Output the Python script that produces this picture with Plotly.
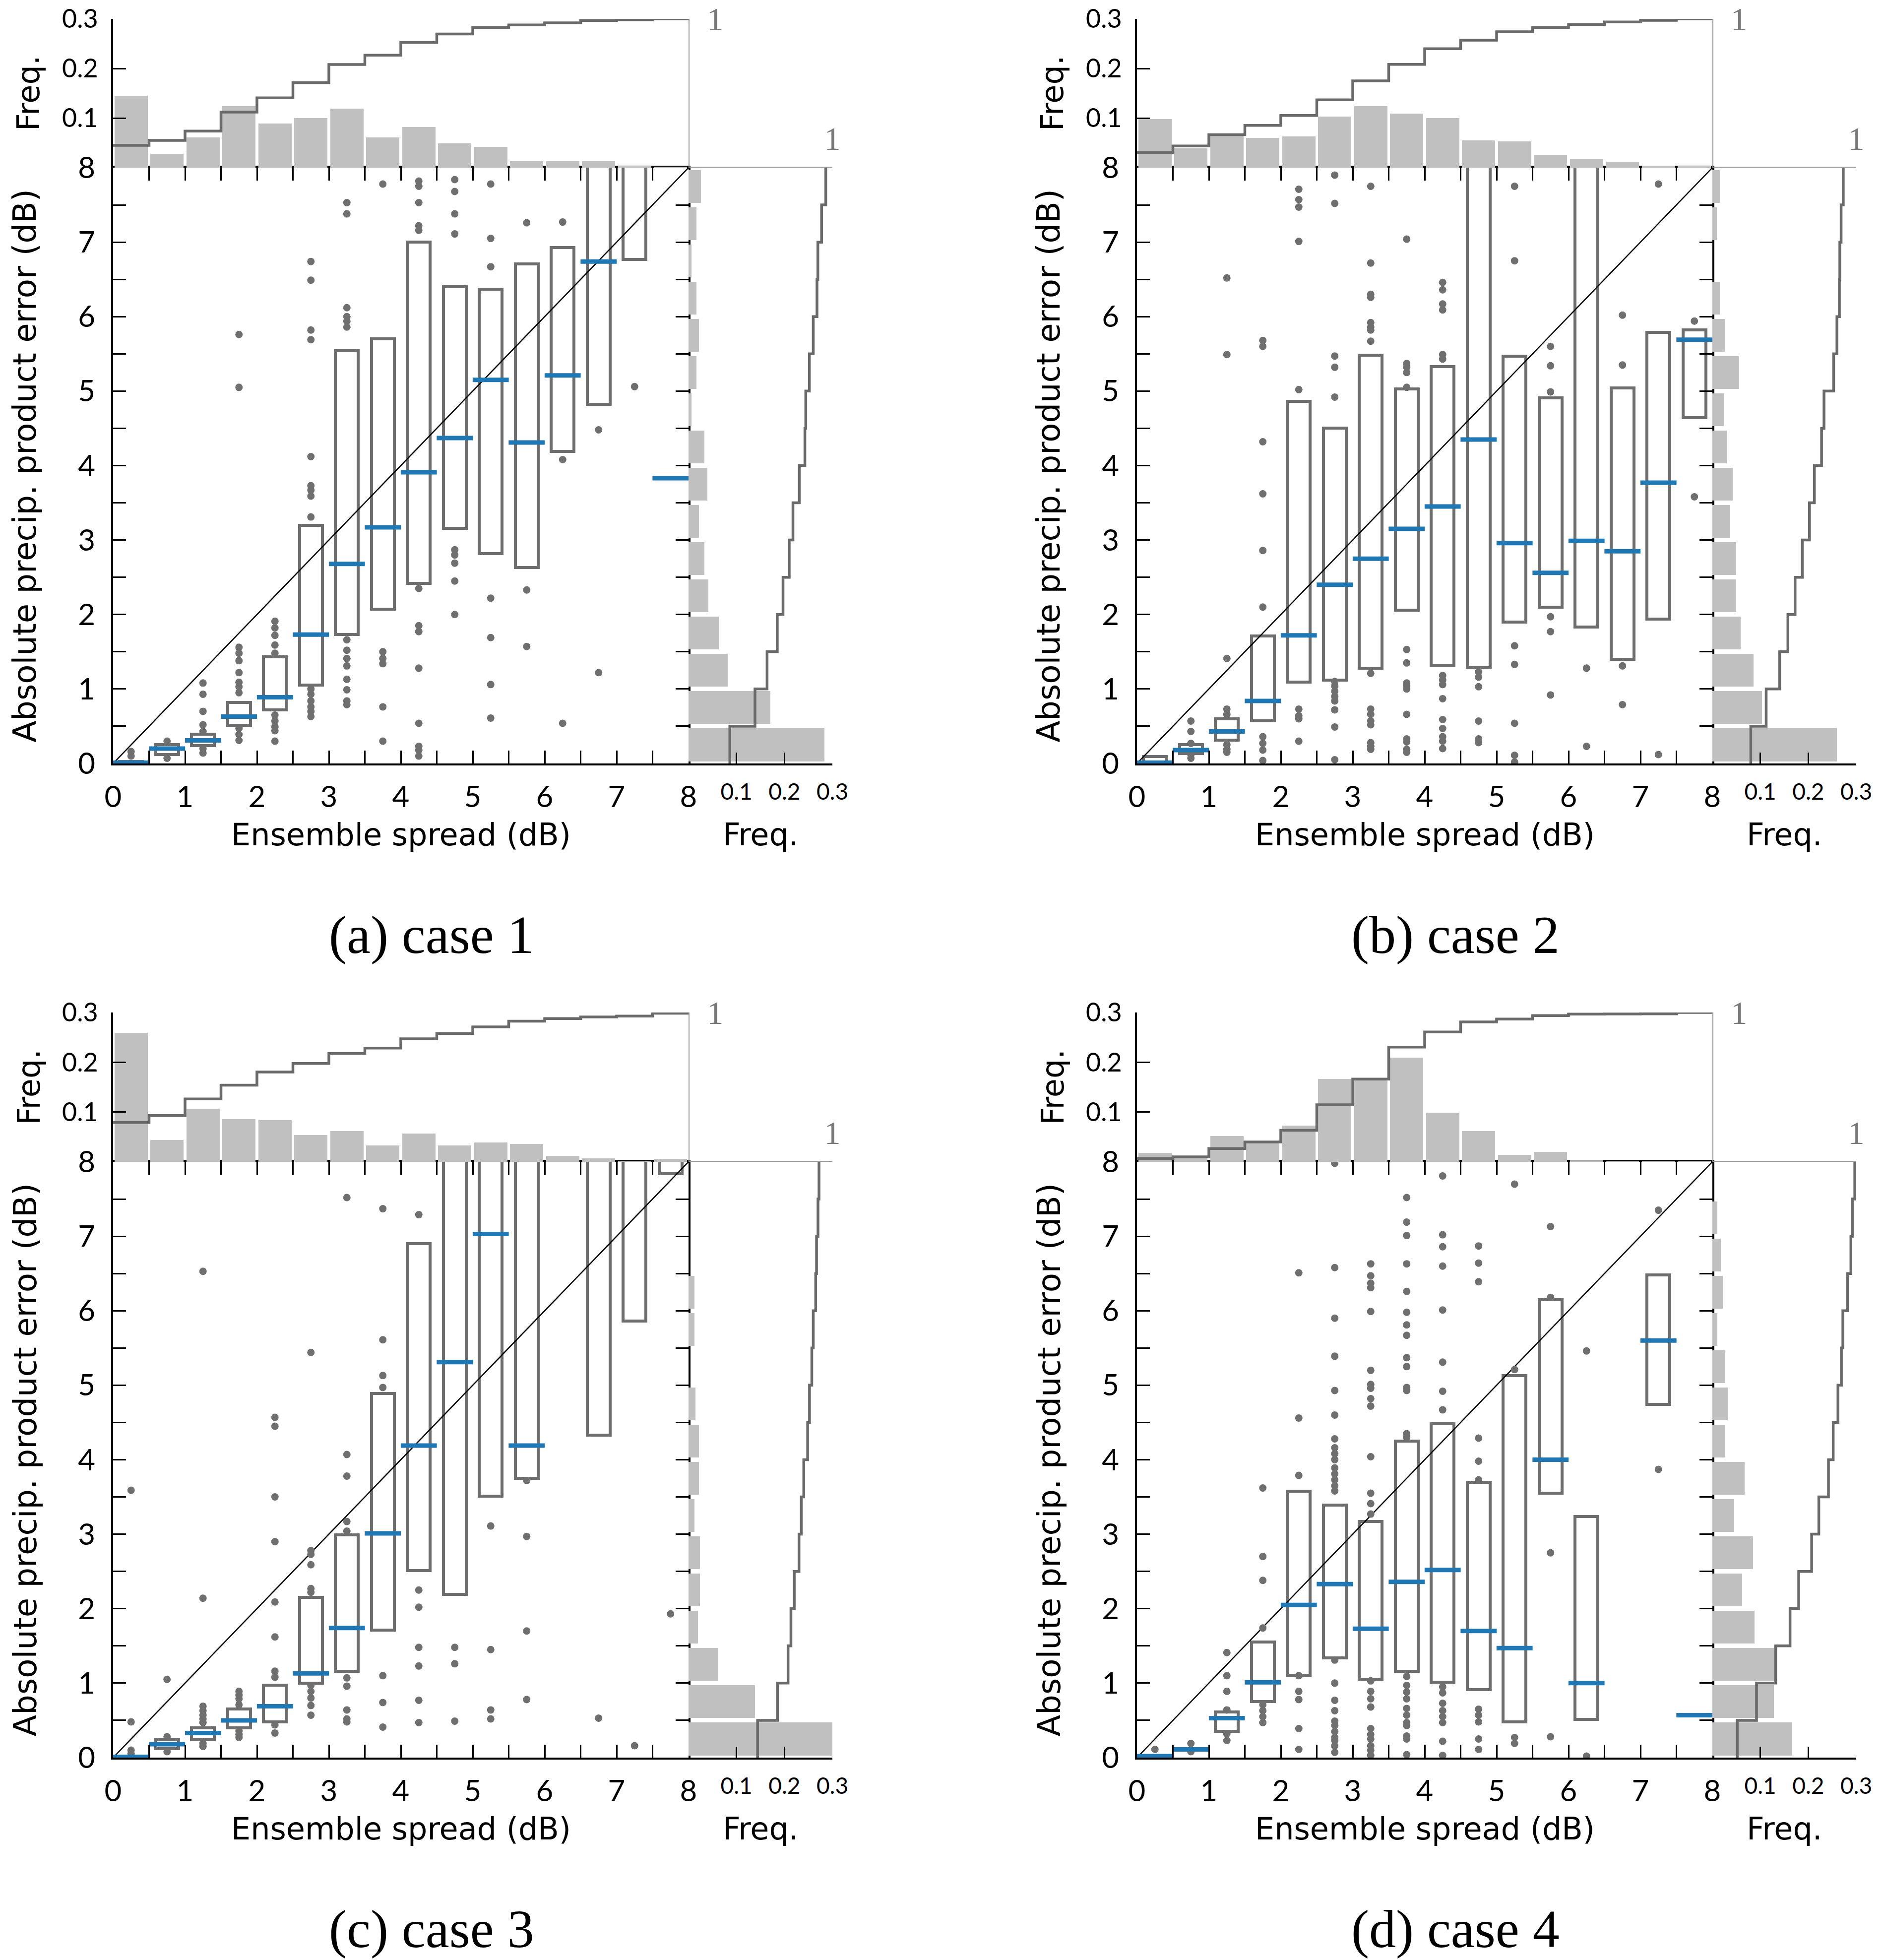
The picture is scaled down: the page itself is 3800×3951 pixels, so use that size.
import plotly.graph_objects as go

# ---------------- data ----------------
bin_centers = [0.25, 0.75, 1.25, 1.75, 2.25, 2.75, 3.25, 3.75,
               4.25, 4.75, 5.25, 5.75, 6.25, 6.75, 7.25, 7.75]
bin_edges = [0.0, 0.5, 1.0, 1.5, 2.0, 2.5, 3.0, 3.5, 4.0,
             4.5, 5.0, 5.5, 6.0, 6.5, 7.0, 7.5, 8.0]
main_ticks = [0.0, 0.5, 1.0, 1.5, 2.0, 2.5, 3.0, 3.5, 4.0,
              4.5, 5.0, 5.5, 6.0, 6.5, 7.0, 7.5, 8.0]
main_tick_text = ["0", "", "1", "", "2", "", "3", "", "4", "", "5", "", "6", "", "7", "", "8"]
freq_ticks = [0.1, 0.2, 0.3]
freq_tick_text = ["0.1", "0.2", "0.3"]
captions = ["(a) case 1", "(b) case 2", "(c) case 3", "(d) case 4"]
OFF = 8.6  # box upper edge above the plotted range

# ---- case 1 ----
top_freq_a = [0.145, 0.028, 0.061, 0.124, 0.089, 0.100, 0.119, 0.061,
              0.082, 0.049, 0.042, 0.013, 0.013, 0.013, 0.003, 0.002]
top_cum_a = [0.150, 0.183, 0.246, 0.373, 0.469, 0.571, 0.693, 0.756,
             0.842, 0.898, 0.942, 0.959, 0.973, 0.989, 0.994, 1.000]
right_freq_a = [0.283, 0.171, 0.082, 0.063, 0.041, 0.033, 0.022, 0.039,
                0.033, 0.006, 0.017, 0.022, 0.017, 0.006, 0.017, 0.026]
right_cum_a = [0.287, 0.462, 0.546, 0.617, 0.657, 0.700, 0.726, 0.770,
               0.809, 0.815, 0.840, 0.867, 0.893, 0.899, 0.925, 0.954]
q1_a = [0.00, 0.12, 0.24, 0.51, 0.72, 1.05, 1.73, 2.07, 2.42, 3.16, 2.82, 2.63, 4.19, 4.82, 6.77, None]
med_a = [0.01, 0.20, 0.31, 0.63, 0.89, 1.73, 2.68, 3.17, 3.91, 4.37, 5.15, 4.31, 5.21, 6.74, None, 3.83]
q3_a = [0.03, 0.255, 0.39, 0.82, 1.43, 3.20, 5.54, 5.70, 7.00, 6.40, 6.37, 6.71, 6.93, OFF, OFF, None]
out_a = [
    [0.16, 0.10],
    [0.30, 0.07],
    [1.08, 0.93, 0.70, 0.52, 0.43, 0.20, 0.14],
    [5.76, 5.05, 1.56, 1.48, 1.38, 1.22, 1.09, 1.03, 0.95, 0.47, 0.39, 0.31],
    [1.91, 1.82, 1.72, 1.59, 1.48, 0.65, 0.57, 0.49, 0.44, 0.30],
    [6.74, 6.49, 5.82, 5.69, 4.12, 3.73, 3.67, 3.59, 3.31, 1.00, 0.93, 0.84, 0.76, 0.70, 0.63],
    [7.53, 7.38, 6.12, 6.00, 5.94, 5.86, 1.66, 1.52, 1.41, 1.31, 1.13, 0.99, 0.84, 0.79],
    [7.78, 1.50, 1.41, 1.34, 0.76, 0.30],
    [7.82, 7.75, 7.53, 7.22, 7.16, 2.35, 1.85, 1.77, 1.28, 0.54, 0.23, 0.18, 0.10],
    [7.84, 7.68, 7.38, 7.11, 2.87, 2.80, 2.69, 2.45, 2.00],
    [7.78, 7.05, 6.67, 2.22, 1.69, 1.06, 0.61],
    [7.26, 2.33, 1.57],
    [7.27, 4.08, 0.54],
    [4.48, 1.22],
    [5.06],
    [],
]

# ---- case 2 ----
top_freq_b = [0.098, 0.039, 0.064, 0.060, 0.063, 0.103, 0.124, 0.109,
              0.100, 0.055, 0.053, 0.026, 0.018, 0.012, 0.004, 0.003]
top_cum_b = [0.102, 0.146, 0.222, 0.284, 0.351, 0.456, 0.583, 0.694,
             0.799, 0.857, 0.913, 0.942, 0.962, 0.979, 0.990, 1.000]
right_freq_b = [0.260, 0.103, 0.086, 0.059, 0.050, 0.050, 0.037, 0.042,
                0.030, 0.024, 0.056, 0.027, 0.015, 0.000, 0.009, 0.015]
right_cum_b = [0.267, 0.374, 0.468, 0.525, 0.575, 0.625, 0.675, 0.709,
               0.759, 0.776, 0.843, 0.866, 0.883, 0.886, 0.895, 0.910]
q1_b = [0.00, 0.13, 0.31, 0.57, 1.09, 1.12, 1.28, 2.06, 1.32, 1.29, 1.90, 2.10, 1.83, 1.40, 1.94, 4.64]
med_b = [0.01, 0.18, 0.43, 0.84, 1.72, 2.40, 2.75, 3.15, 3.45, 4.35, 2.96, 2.56, 2.99, 2.85, 3.77, 5.69]
q3_b = [0.09, 0.255, 0.60, 1.71, 4.86, 4.50, 5.48, 5.03, 5.33, OFF, 5.47, 4.91, OFF, 5.04, 5.79, 5.82]
out_b = [
    [],
    [0.57, 0.43, 0.27, 0.12, 0.07],
    [6.52, 5.49, 1.41, 0.73, 0.66, 0.25, 0.19, 0.15],
    [5.68, 5.60, 4.32, 3.62, 2.86, 2.10, 0.36, 0.27, 0.18, 0.04],
    [7.71, 7.57, 7.47, 7.01, 5.02, 0.73, 0.64, 0.60, 0.30],
    [7.90, 7.52, 5.47, 5.32, 4.92, 1.10, 1.04, 0.97, 0.90, 0.84, 0.72, 0.49, 0.05],
    [7.75, 6.72, 6.30, 6.26, 5.92, 5.86, 5.82, 5.67, 1.21, 0.73, 0.66, 0.57, 0.52, 0.28, 0.23, 0.19],
    [7.04, 5.37, 5.32, 5.25, 5.05, 1.53, 1.35, 1.08, 1.04, 1.00, 0.66, 0.33, 0.29, 0.19, 0.15],
    [6.46, 6.36, 6.17, 6.09, 5.49, 5.43, 1.18, 1.12, 1.06, 0.87, 0.59, 0.47, 0.36, 0.30, 0.20],
    [1.23, 1.16, 1.03, 0.57, 0.33, 0.28],
    [7.75, 6.75, 1.58, 1.33, 0.54, 0.11, 0.02],
    [5.60, 5.34, 4.99, 1.97, 1.77, 0.92],
    [1.28, 0.23],
    [6.02, 5.35, 1.31, 0.79],
    [7.78, 0.12],
    [5.94, 3.58],
]

# ---- case 3 ----
top_freq_c = [0.259, 0.044, 0.107, 0.086, 0.084, 0.054, 0.062, 0.033,
              0.057, 0.033, 0.039, 0.036, 0.012, 0.007, 0.001, 0.006]
top_cum_c = [0.263, 0.310, 0.421, 0.513, 0.601, 0.659, 0.726, 0.762,
             0.824, 0.859, 0.904, 0.942, 0.959, 0.970, 0.976, 0.995]
right_freq_c = [0.480, 0.139, 0.062, 0.020, 0.024, 0.024, 0.012, 0.022,
                0.022, 0.014, 0.000, 0.012, 0.012, 0.000, 0.000, 0.000]
right_cum_c = [0.480, 0.619, 0.692, 0.712, 0.735, 0.768, 0.784, 0.801,
               0.828, 0.841, 0.857, 0.867, 0.884, 0.890, 0.900, 0.907]
q1_c = [0.00, 0.12, 0.24, 0.40, 0.48, 1.00, 1.16, 1.71, 2.51, 2.19, 3.51, 3.75, None, 4.33, 5.86, 7.84]
med_c = [0.01, 0.18, 0.33, 0.50, 0.69, 1.13, 1.74, 3.01, 4.19, 5.31, 7.03, 4.19, None, None, None, None]
q3_c = [0.02, 0.24, 0.40, 0.65, 0.97, 2.15, 2.99, 4.89, 6.90, OFF, OFF, OFF, None, OFF, OFF, OFF]
out_c = [
    [3.59, 0.48, 0.10, 0.05],
    [1.05, 0.28, 0.08],
    [6.53, 2.14, 0.69, 0.63, 0.57, 0.52, 0.47, 0.19, 0.15],
    [0.89, 0.84, 0.79, 0.71, 0.36, 0.31, 0.27],
    [4.57, 4.45, 3.50, 2.90, 2.09, 1.62, 1.16, 1.08, 0.44, 0.33],
    [5.44, 2.78, 2.73, 2.59, 2.27, 2.22, 0.97, 0.89, 0.80, 0.70, 0.57],
    [7.52, 4.07, 3.78, 3.17, 3.04, 1.07, 0.96, 0.64, 0.52, 0.48],
    [7.37, 5.61, 5.13, 4.97, 1.10, 0.74, 0.41],
    [7.29, 2.25, 2.02, 1.48, 1.23, 0.77, 0.47],
    [1.48, 1.26, 0.49],
    [3.11, 1.45, 0.64, 0.52],
    [3.72, 2.97, 1.70, 0.78],
    [],
    [0.53],
    [0.16],
    [1.93],
]

# ---- case 4 ----
top_freq_d = [0.018, 0.010, 0.052, 0.042, 0.073, 0.166, 0.163, 0.209,
              0.099, 0.062, 0.014, 0.020, 0.003, 0.001, 0.001, 0.001]
top_cum_d = [0.022, 0.033, 0.089, 0.133, 0.211, 0.382, 0.554, 0.768,
             0.870, 0.937, 0.956, 0.979, 0.989, 0.990, 0.991, 1.000]
right_freq_d = [0.167, 0.128, 0.130, 0.088, 0.062, 0.085, 0.045, 0.067,
                0.027, 0.032, 0.027, 0.010, 0.022, 0.018, 0.010, 0.000]
right_cum_d = [0.173, 0.307, 0.440, 0.540, 0.600, 0.690, 0.740, 0.807,
               0.840, 0.873, 0.897, 0.907, 0.940, 0.963, 0.973, 0.990]
q1_d = [None, None, 0.35, 0.75, 1.10, 1.34, 1.05, 1.16, 1.01, 0.91, 0.48, 3.55, 0.51, None, 4.74, None]
med_d = [0.02, 0.11, 0.53, 1.01, 2.05, 2.33, 1.73, 2.36, 2.52, 1.70, 1.47, 4.00, 1.00, None, 5.60, 0.57]
q3_d = [None, None, 0.61, 1.55, 3.58, 3.39, 3.17, 4.25, 4.49, 3.70, 5.13, 6.15, 3.24, None, 6.48, None]
out_d = [
    [0.11],
    [0.19, 0.08],
    [1.41, 1.10, 0.89, 0.64, 0.32, 0.23],
    [3.62, 2.70, 2.38, 1.74, 0.71, 0.63, 0.55, 0.47],
    [6.51, 4.56, 3.79, 1.10, 0.89, 0.78, 0.39, 0.11],
    [7.98, 6.58, 5.90, 5.39, 4.93, 4.60, 4.28, 4.16, 4.08, 4.00, 3.89, 3.81, 3.73, 3.65, 3.58,
     1.31, 1.00, 0.77, 0.63, 0.49, 0.43, 0.35, 0.27, 0.23, 0.16, 0.07],
    [6.63, 6.47, 6.37, 6.31, 5.99, 5.20, 5.01, 4.96, 4.82, 4.72, 4.04, 3.55, 3.41, 3.27,
     1.03, 0.89, 0.79, 0.68, 0.39, 0.31, 0.25, 0.16, 0.10, 0.03],
    [7.52, 7.19, 7.01, 6.63, 6.26, 5.98, 5.81, 5.67, 5.37, 5.25, 4.97, 4.93, 4.35, 4.30,
     1.09, 0.97, 0.88, 0.79, 0.66, 0.57, 0.47, 0.43, 0.29, 0.25, 0.04],
    [7.81, 7.02, 6.86, 6.60, 6.01, 5.31, 4.92, 4.67, 0.95, 0.87, 0.73, 0.63, 0.55, 0.47, 0.22, 0.03],
    [6.87, 6.64, 6.39, 4.29, 3.98, 3.73, 0.65, 0.57, 0.48, 0.25, 0.11],
    [7.70, 5.21, 0.27, 0.19],
    [7.13, 6.18, 2.75, 0.28],
    [5.46, 0.02],
    [],
    [7.35, 3.87],
    [],
]

panels = [
    dict(top=top_freq_a, topcum=top_cum_a, right=right_freq_a, rightcum=right_cum_a,
         q1=q1_a, med=med_a, q3=q3_a, out=out_a),
    dict(top=top_freq_b, topcum=top_cum_b, right=right_freq_b, rightcum=right_cum_b,
         q1=q1_b, med=med_b, q3=q3_b, out=out_b),
    dict(top=top_freq_c, topcum=top_cum_c, right=right_freq_c, rightcum=right_cum_c,
         q1=q1_c, med=med_c, q3=q3_c, out=out_c),
    dict(top=top_freq_d, topcum=top_cum_d, right=right_freq_d, rightcum=right_cum_d,
         q1=q1_d, med=med_d, q3=q3_d, out=out_d),
]

# ---------------- styling / layout ----------------
W, H = 3800, 3951
SANS = "Lato, 'Open Sans', sans-serif"
TITLE_SANS = "'DejaVu Sans', sans-serif"
SERIF = "'Liberation Serif', 'DejaVu Serif', serif"
BAR_GRAY = "#c0c0c0"
BOX_GRAY = "#6e6e6e"
DOT_GRAY = "#6f6f6f"
CUM_GRAY = "#6a6a6a"
AX_GRAY = "#9a9a9a"
BLUE = "#1f77b4"

col_left = [228, 2292]
row_px = [(38, 338, 1539), (2041, 2342, 3543)]
MAIN_W, RH_W = 1160, 290


def fx(px):
    return px / W


def fy(px):
    return 1 - px / H


def aname(kind, n):
    return f"{kind}axis" if n == 1 else f"{kind}axis{n}"


def aref(kind, n):
    return kind if n == 1 else f"{kind}{n}"


fig = go.Figure()
layout_axes = {}
annotations = []

for p, d in enumerate(panels):
    r, c = divmod(p, 2)
    x0 = col_left[c]
    x1 = x0 + MAIN_W
    x2 = x1 + RH_W
    t0, t1, t2 = row_px[r]
    b = 4 * p + 1
    xm, ym = aref("x", b), aref("y", b)
    xt, yt = aref("x", b + 1), aref("y", b + 1)
    xr, yr = aref("x", b + 2), aref("y", b + 2)
    xc, yc = aref("x", b + 3), aref("y", b + 3)

    # --- main axes ---
    common_main = dict(range=[0, 8], tickvals=main_ticks, ticktext=main_tick_text,
                       ticks="inside", ticklen=26, tickwidth=3, tickcolor="black",
                       showline=True, linewidth=4, linecolor="black", mirror="ticks",
                       showgrid=False, zeroline=False, automargin=False,
                       tickfont=dict(family=SANS, size=60, color="black"))
    layout_axes[aname("x", b)] = dict(common_main, domain=[fx(x0), fx(x1)], anchor=ym,
                                      ticklabelstandoff=12)
    layout_axes[aname("y", b)] = dict(common_main, domain=[fy(t2), fy(t1)], anchor=xm,
                                      ticklabelstandoff=20)
    # --- top histogram axes ---
    layout_axes[aname("x", b + 1)] = dict(range=[0, 8], domain=[fx(x0), fx(x1)], anchor=yt,
                                          visible=False, automargin=False)
    layout_axes[aname("y", b + 1)] = dict(range=[0, 0.3], domain=[fy(t1), fy(t0)], anchor=xt,
                                          tickvals=freq_ticks, ticktext=freq_tick_text,
                                          ticks="inside", ticklen=26, tickwidth=3,
                                          tickcolor="black", showline=True, linewidth=4,
                                          linecolor="black", showgrid=False, zeroline=False,
                                          ticklabelstandoff=16, automargin=False,
                                          tickfont=dict(family=SANS, size=52, color="black"))
    layout_axes[aname("y", b + 3)] = dict(range=[0, 1], overlaying=yt, side="right", anchor=xt,
                                          tickvals=[1], ticktext=["1"], ticks="inside",
                                          ticklen=16, tickwidth=2, tickcolor=AX_GRAY,
                                          showline=True, linewidth=2, linecolor=AX_GRAY,
                                          showgrid=False, zeroline=False, ticklabelstandoff=22,
                                          automargin=False,
                                          tickfont=dict(family=SERIF, size=66, color="#7a7a7a"))
    # --- right histogram axes ---
    layout_axes[aname("x", b + 2)] = dict(range=[0, 0.3], domain=[fx(x1), fx(x2)], anchor=yr,
                                          tickvals=freq_ticks, ticktext=freq_tick_text,
                                          ticks="inside", ticklen=22, tickwidth=3,
                                          tickcolor="black", showline=True, linewidth=4,
                                          linecolor="black", showgrid=False, zeroline=False,
                                          ticklabelstandoff=14, automargin=False,
                                          tickfont=dict(family=SANS, size=46, color="black"))
    layout_axes[aname("y", b + 2)] = dict(range=[0, 8], domain=[fy(t2), fy(t1)], anchor=xr,
                                          visible=False, automargin=False)
    layout_axes[aname("x", b + 3)] = dict(range=[0, 1], overlaying=xr, side="top", anchor=yr,
                                          tickvals=[1], ticktext=["1"], ticks="inside",
                                          ticklen=26, tickwidth=2, tickcolor=AX_GRAY,
                                          showline=True, linewidth=2, linecolor=AX_GRAY,
                                          showgrid=False, zeroline=False, ticklabelstandoff=8,
                                          automargin=False,
                                          tickfont=dict(family=SERIF, size=66, color="#7a7a7a"))

    # --- traces: top histogram ---
    fig.add_trace(go.Bar(x=bin_centers, y=d["top"], width=0.46, xaxis=xt, yaxis=yt,
                         marker=dict(color=BAR_GRAY, line=dict(width=0)), showlegend=False))
    fig.add_trace(go.Scatter(x=bin_edges, y=d["topcum"] + [d["topcum"][-1]], mode="lines",
                             line=dict(color=CUM_GRAY, width=5.5, shape="hv"),
                             xaxis=xt, yaxis=yc, showlegend=False))
    # --- traces: right histogram ---
    fig.add_trace(go.Bar(y=bin_centers, x=d["right"], orientation="h", width=0.44,
                         xaxis=xr, yaxis=yr,
                         marker=dict(color=BAR_GRAY, line=dict(width=0)), showlegend=False))
    fig.add_trace(go.Scatter(x=d["rightcum"] + [d["rightcum"][-1]], y=bin_edges, mode="lines",
                             line=dict(color=CUM_GRAY, width=5.5, shape="vh"),
                             xaxis=xc, yaxis=yr, showlegend=False))
    # --- traces: main panel ---
    fig.add_trace(go.Scatter(x=[0, 8], y=[0, 8], mode="lines",
                             line=dict(color="black", width=2.5),
                             xaxis=xm, yaxis=ym, showlegend=False))
    bx, bbase, bh = [], [], []
    for xcen, lo, hi in zip(bin_centers, d["q1"], d["q3"]):
        if lo is not None and hi is not None:
            bx.append(xcen)
            bbase.append(lo)
            bh.append(hi - lo)
    fig.add_trace(go.Bar(x=bx, y=bh, base=bbase, width=0.32, xaxis=xm, yaxis=ym,
                         marker=dict(color="rgba(255,255,255,0)",
                                     line=dict(color=BOX_GRAY, width=6)),
                         showlegend=False))
    ox, oy = [], []
    for xcen, vals in zip(bin_centers, d["out"]):
        for v in vals:
            ox.append(xcen)
            oy.append(v)
    fig.add_trace(go.Scatter(x=ox, y=oy, mode="markers", xaxis=xm, yaxis=ym,
                             marker=dict(color=DOT_GRAY, size=15, line=dict(width=0)),
                             showlegend=False))
    mx = [xcen for xcen, m in zip(bin_centers, d["med"]) if m is not None]
    my = [m for m in d["med"] if m is not None]
    fig.add_trace(go.Scatter(x=mx, y=my, mode="markers", xaxis=xm, yaxis=ym,
                             marker=dict(symbol="line-ew", size=52,
                                         line=dict(width=9, color=BLUE)),
                             showlegend=False))

    # --- text ---
    annotations += [
        dict(text="Absolute precip. product error (dB)", textangle=-90,
             x=fx(x0 - 178), y=fy((t1 + t2) / 2), xref="paper", yref="paper",
             xanchor="center", yanchor="middle", showarrow=False,
             font=dict(family=TITLE_SANS, size=64, color="black")),
        dict(text="Freq.", textangle=-90,
             x=fx(x0 - 170), y=fy((t0 + t1) / 2), xref="paper", yref="paper",
             xanchor="center", yanchor="middle", showarrow=False,
             font=dict(family=TITLE_SANS, size=62, color="black")),
        dict(text="Ensemble spread (dB)", x=fx((x0 + x1) / 2), y=fy(t2 + 143),
             xref="paper", yref="paper", xanchor="center", yanchor="middle", showarrow=False,
             font=dict(family=TITLE_SANS, size=62, color="black")),
        dict(text="Freq.", x=fx((x1 + x2) / 2), y=fy(t2 + 143),
             xref="paper", yref="paper", xanchor="center", yanchor="middle", showarrow=False,
             font=dict(family=TITLE_SANS, size=62, color="black")),
        dict(text=captions[p], x=fx((x0 + x1) / 2 + 62), y=fy(t2 + 346),
             xref="paper", yref="paper", xanchor="center", yanchor="middle", showarrow=False,
             font=dict(family=SERIF, size=108, color="black")),
    ]

fig.update_layout(
    width=W, height=H,
    margin=dict(l=0, r=0, t=0, b=0, autoexpand=False),
    paper_bgcolor="white", plot_bgcolor="rgba(0,0,0,0)",
    barmode="overlay", bargap=0,
    showlegend=False,
    font=dict(family=SANS, color="black"),
    annotations=annotations,
    **layout_axes,
)

fig.write_html("out.html", config={"displayModeBar": False},
               post_script="document.body.style.margin='0px';")
